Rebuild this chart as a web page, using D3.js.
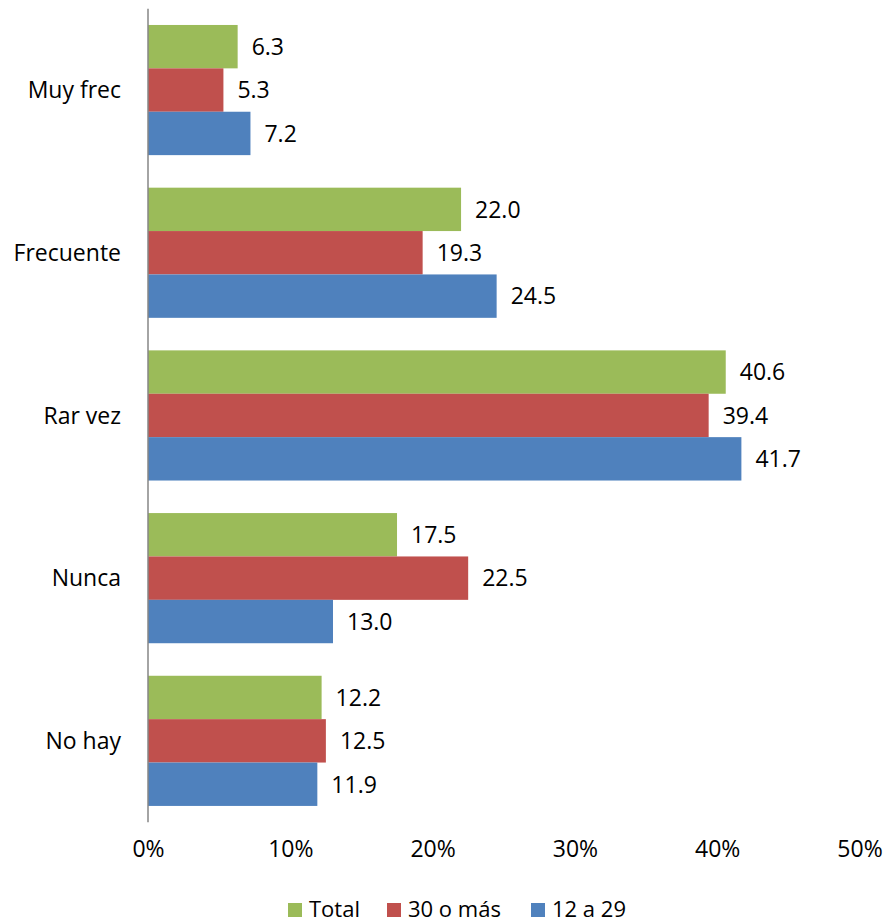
<!DOCTYPE html>
<html><head><meta charset="utf-8">
<script src="https://cdn.jsdelivr.net/npm/d3@7"></script>
<style>body{margin:0;background:#fff}svg{display:block}text{font-family:"Open Sans",sans-serif;fill:#000}</style>
</head><body><svg id="c" width="884" height="924"></svg>
<script>
const categories = ["Muy frec","Frecuente","Rar vez","Nunca","No hay"];
const seriesNames = ["Total","30 o más","12 a 29"];
const totalValues = [6.3,22.0,40.6,17.5,12.2];
const over30Values = [5.3,19.3,39.4,22.5,12.5];
const youngValues = [7.2,24.5,41.7,13.0,11.9];
const tickValues = [0,10,20,30,40,50];
const colors = ["#9BBB59","#C0504D","#4F81BD"];

const svg = d3.select("#c");
const x = d3.scaleLinear().domain([0,50]).range([148,859.5]);
const y = d3.scaleBand().domain(categories).range([8.7,822.2]).paddingInner(0.2).paddingOuter(0.1);
const inner = d3.scaleBand().domain(seriesNames).range([0,y.bandwidth()]);
const seriesVals = [totalValues, over30Values, youngValues];

const data = [];
categories.forEach((c,i)=>seriesNames.forEach((s,j)=>data.push({c,s,j,v:seriesVals[j][i]})));

svg.selectAll("rect.bar").data(data).enter().append("rect").attr("class","bar")
  .attr("x",x(0)).attr("y",d=>y(d.c)+inner(d.s))
  .attr("width",d=>x(d.v)-x(0)).attr("height",inner.bandwidth())
  .attr("fill",d=>colors[d.j]);

svg.selectAll("text.val").data(data).enter().append("text").attr("class","val")
  .attr("x",d=>x(d.v)+14).attr("y",d=>y(d.c)+inner(d.s)+inner.bandwidth()/2)
  .attr("dy","0.36em").attr("font-size",23).text(d=>d.v.toFixed(1));

const yTop = y.range()[0], yBot = y.range()[1];
svg.append("line").attr("x1",x(0)).attr("x2",x(0)).attr("y1",yTop).attr("y2",yBot)
  .attr("stroke","#868686").attr("stroke-width",1.5);

svg.selectAll("text.cat").data(categories).enter().append("text").attr("class","cat")
  .attr("x",121).attr("y",d=>y(d)+y.bandwidth()/2).attr("dy","0.36em")
  .attr("text-anchor","end").attr("font-size",23).text(d=>d);

const xAxis = d3.axisBottom(x).tickValues(tickValues).tickFormat(d=>d+"%").tickSize(0).tickPadding(0);
const gx = svg.append("g").attr("transform","translate(0,841)").call(xAxis);
gx.select(".domain").remove();
gx.selectAll("text").attr("font-size",23).attr("font-family","Open Sans").attr("fill","#000");

const legX = [288,387,531];
const lg = svg.selectAll("g.leg").data(seriesNames).enter().append("g").attr("class","leg")
  .attr("transform",(d,i)=>`translate(${legX[i]},903)`);
lg.append("rect").attr("width",14).attr("height",14).attr("fill",(d,i)=>colors[i]);
lg.append("text").attr("x",21).attr("y",14).attr("font-size",22).text(d=>d);
</script></body></html>
